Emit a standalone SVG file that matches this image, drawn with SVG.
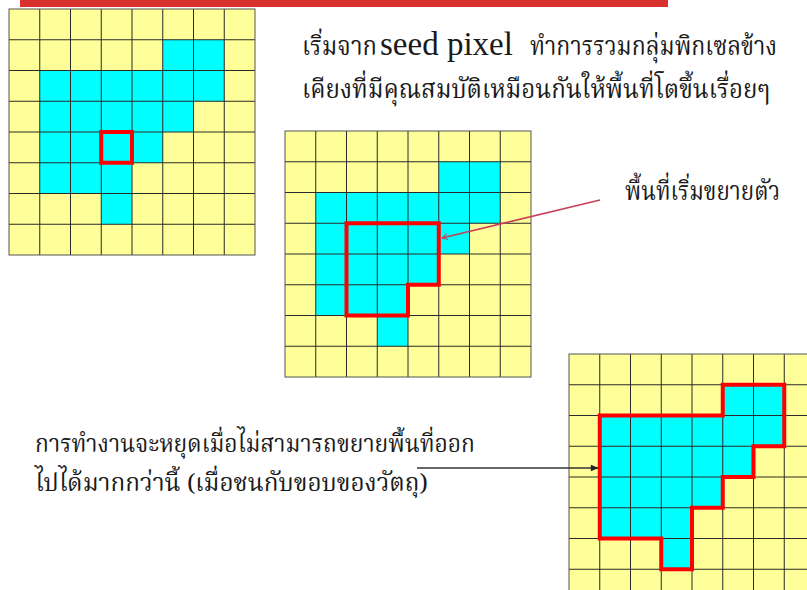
<svg xmlns="http://www.w3.org/2000/svg" xmlns:xlink="http://www.w3.org/1999/xlink" width="807" height="590" viewBox="0 0 807 590">
<style>
.bg{fill:#ffff99}
.cy{fill:#00ffff}
.gl{fill:none;stroke:#2a2a2a;stroke-width:1}
.frame{fill:none;stroke:#555;stroke-width:1}
.red{fill:none;stroke:#ff0000;stroke-width:4;stroke-linejoin:miter}
.th{font-family:"Kinnari","Norasi","Noto Serif Thai","Liberation Serif","Noto Sans Thai",serif;font-size:26px;fill:#1a1a1a}
.sm{font-size:24px}
.en{font-family:"Liberation Serif",serif;font-size:33px;fill:#1a1a1a}
.c1{fill:none;stroke:#c8405a;stroke-width:1.6}
.c2{fill:none;stroke:#333;stroke-width:1.6}
</style>
<defs>
<g id="grid">
<rect class="bg" x="0" y="0" width="246" height="246"/>
<path class="cy" d="M30.75,61.5H153.75V30.75H215.25V92.25H184.5V123H153.75V153.75H123V215.25H92.25V184.5H30.75Z"/>
<path class="gl" d="M30.75,0V246M61.5,0V246M92.25,0V246M123,0V246M153.75,0V246M184.5,0V246M215.25,0V246M0,30.75H246M0,61.5H246M0,92.25H246M0,123H246M0,153.75H246M0,184.5H246M0,215.25H246"/>
<rect class="frame" x="0" y="0" width="246" height="246"/>
</g>
<marker id="ah1" viewBox="0 0 10 10" refX="9" refY="5" markerWidth="7" markerHeight="7" orient="auto" markerUnits="userSpaceOnUse">
<path d="M1,1L9,5L1,9" fill="none" stroke="#c8405a" stroke-width="1.5"/>
</marker>
<marker id="ah2" viewBox="0 0 10 10" refX="9" refY="5" markerWidth="9" markerHeight="8" orient="auto" markerUnits="userSpaceOnUse">
<path d="M0,1L10,5L0,9Z" fill="#222"/>
</marker>
</defs>
<rect x="20" y="0" width="648" height="7" fill="#d8302c"/>
<g id="grid-seed" transform="translate(9,9)">
<use xlink:href="#grid"/>
<rect class="red" x="92.25" y="123" width="30.75" height="30.75"/>
</g>
<g id="grid-grow" transform="translate(285,131)">
<use xlink:href="#grid"/>
<path class="red" d="M61.5,92.25H153.75V153.75H123V184.5H61.5Z"/>
</g>
<g id="grid-final" transform="translate(569,354)">
<use xlink:href="#grid"/>
<path class="red" d="M30.75,61.5H153.75V30.75H215.25V92.25H184.5V123H153.75V153.75H123V215.25H92.25V184.5H30.75Z"/>
</g>
<g id="text-intro">
<text class="th" x="302" y="55" textLength="75" lengthAdjust="spacingAndGlyphs">เริ่มจาก</text>
<text class="en" x="380" y="55">seed pixel</text>
<text class="th" x="530" y="55" textLength="247" lengthAdjust="spacingAndGlyphs">ทำการรวมกลุ่มพิกเซลข้าง</text>
<text class="th" x="302" y="98" textLength="468" lengthAdjust="spacingAndGlyphs">เคียงที่มีคุณสมบัติเหมือนกันให้พื้นที่โตขึ้นเรื่อยๆ</text>
</g>
<g id="label-grow">
<text class="th" x="625" y="200" textLength="155" lengthAdjust="spacingAndGlyphs">พื้นที่เริ่มขยายตัว</text>
</g>
<g id="label-stop">
<text class="th sm" x="35" y="452" textLength="440" lengthAdjust="spacingAndGlyphs">การทำงานจะหยุดเมื่อไม่สามารถขยายพื้นที่ออก</text>
<text class="th sm" x="35" y="491" textLength="393" lengthAdjust="spacingAndGlyphs">ไปได้มากกว่านี้ (เมื่อชนกับขอบของวัตถุ)</text>
</g>
<g id="connectors">
<path class="c1" d="M600,200L442,238" marker-end="url(#ah1)"/>
<path class="c2" d="M417,468H598" marker-end="url(#ah2)"/>
</g>
</svg>
